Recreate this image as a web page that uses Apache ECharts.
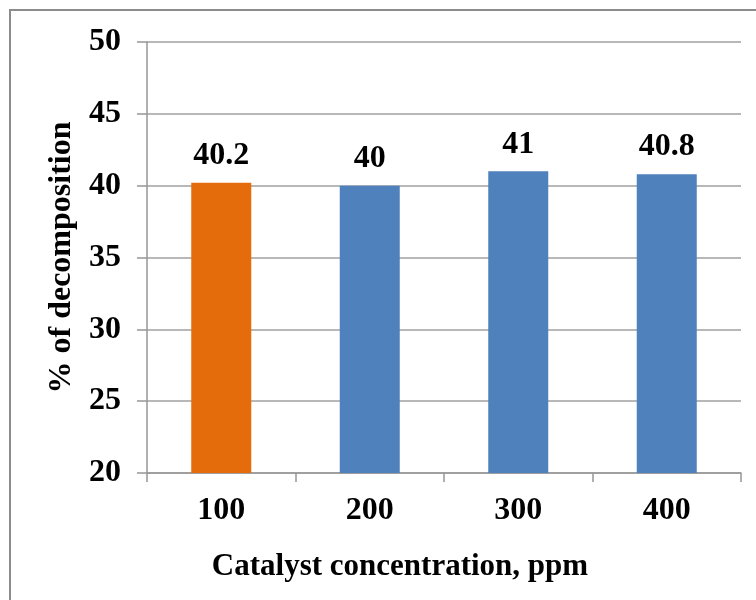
<!DOCTYPE html>
<html>
<head>
<meta charset="utf-8">
<script src="https://cdn.jsdelivr.net/npm/echarts@6/dist/echarts.min.js"></script>
<style>html,body{margin:0;padding:0;background:#fff}#c{width:756px;height:600px}</style>
</head>
<body>
<div id="c"></div>
<script>
var categories = ['100', '200', '300', '400'];
var values = [40.2, 40, 41, 40.8];
var barColors = ['#E46C0A', '#4F81BD', '#4F81BD', '#4F81BD'];
var yTicks = [20, 25, 30, 35, 40, 45, 50];

var FONT = '"Liberation Serif", "Times New Roman", serif';
var chart = echarts.init(document.getElementById('c'), null, {renderer: 'canvas'});
chart.setOption({
  backgroundColor: '#fff',
  animation: false,
  grid: {left: 147, right: 15, top: 42, bottom: 127},
  graphic: [
    {type: 'rect', shape: {x: 10, y: 10, width: 780, height: 620}, style: {fill: 'none', stroke: '#8c8c8c', lineWidth: 2}},
    {type: 'text', x: 400, y: 567, style: {text: 'Catalyst concentration, ppm', font: 'bold 31px ' + FONT, fill: '#000', textAlign: 'center', textVerticalAlign: 'middle'}}
  ],
  xAxis: {
    type: 'category',
    data: categories,
    axisLine: {lineStyle: {color: '#969696', width: 1.5}},
    axisTick: {show: true, length: 9, lineStyle: {color: '#969696', width: 1.5}},
    axisLabel: {margin: 22, fontFamily: FONT, fontWeight: 'bold', fontSize: 32, color: '#000'}
  },
  yAxis: {
    type: 'value',
    min: yTicks[0],
    max: yTicks[yTicks.length - 1],
    interval: 5,
    name: '% of decomposition',
    nameLocation: 'middle',
    nameGap: 68,
    nameTextStyle: {fontFamily: FONT, fontWeight: 'bold', fontSize: 32, color: '#000'},
    axisLine: {show: true, lineStyle: {color: '#969696', width: 1.5}},
    axisTick: {show: true, length: 10, lineStyle: {color: '#969696', width: 1.5}},
    splitLine: {show: true, lineStyle: {color: '#a0a0a0', width: 1.5}},
    axisLabel: {margin: 26, fontFamily: FONT, fontWeight: 'bold', fontSize: 32, color: '#000'}
  },
  series: [{
    type: 'bar',
    barWidth: 60,
    data: values.map(function (v, i) { return {value: v, itemStyle: {color: barColors[i]}}; }),
    label: {show: true, position: 'top', distance: 11, fontFamily: FONT, fontWeight: 'bold', fontSize: 32, color: '#000'}
  }]
});
</script>
</body>
</html>
